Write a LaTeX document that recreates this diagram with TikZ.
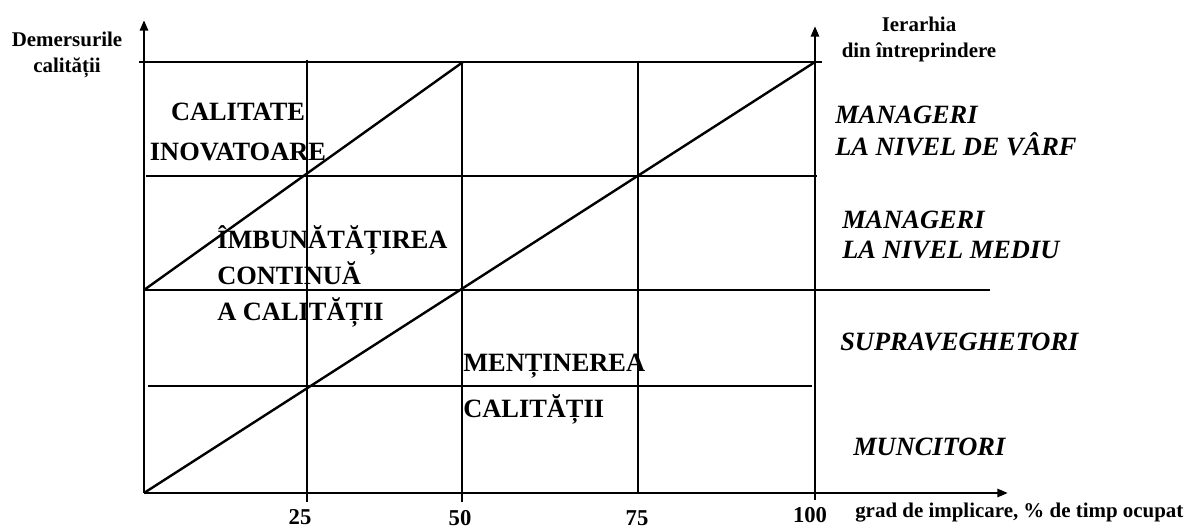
\documentclass[tikz,border=0pt]{standalone}
\usepackage{fontspec}
\setmainfont{Liberation Serif}
\usetikzlibrary{arrows.meta}
\tikzset{
  axis/.style={line width=2pt,-{Triangle[length=8pt,width=6pt]}},
  gridline/.style={line width=1.2pt},
  diag/.style={line width=1.8pt},
  zone/.style={font=\bfseries\fontsize{19.8}{27}\selectfont,align=left,anchor=west,inner sep=0pt},
  level/.style={font=\bfseries\itshape\fontsize{19.8}{24}\selectfont,align=left,anchor=west,inner sep=0pt},
  axlabel/.style={font=\bfseries\fontsize{15.7}{19.5}\selectfont,align=center,inner sep=0pt},
  ticklabel/.style={font=\bfseries\fontsize{17}{20}\selectfont,inner sep=0pt}
}
\begin{document}
\begin{tikzpicture}[x=0.75pt,y=-0.75pt]
  \useasboundingbox (0,0) rectangle (1192,530);
  % axes
  \coordinate (O) at (144,493);
  \coordinate (ytop) at (144,20);
  \coordinate (xend) at (1008,493);
  \coordinate (rbot) at (815,500);
  \coordinate (rtop) at (815,26);
  \draw[axis] (O) -- (ytop);
  \draw[axis] (O) -- (xend);
  \draw[axis] (rbot) -- (rtop);
  % grid
  \draw[gridline] (139,62) -- (822,62);
  \draw[gridline] (146,176) -- (817,176);
  \draw[gridline] (144,290) -- (990,290);
  \draw[gridline] (148,386) -- (812,386);
  \draw[gridline] (307,60) -- (307,502);
  \draw[gridline] (462,62) -- (462,502);
  \draw[gridline] (638,62) -- (638,493);
  % diagonals
  \coordinate (dA) at (144,290);
  \coordinate (dB) at (463,62);
  \coordinate (dC) at (815,62);
  \draw[diag] (dA) -- (dB);
  \draw[diag] (O) -- (dC);
  % axis titles
  \node[axlabel] (ytitle) at (67,55) {Demersurile\\calității};
  \node[axlabel] (rtitle) at (919,39) {Ierarhia\\din întreprindere};
  \node[axlabel,anchor=west] (xtitle) at (855,513) {grad de implicare, \% de timp ocupat};
  \node[ticklabel] (t25) at (300,517) {25};
  \node[ticklabel] (t50) at (460,518) {50};
  \node[ticklabel] (t75) at (637,518) {75};
  \node[ticklabel] (t100) at (810,515) {100};
  % zones
  \node[zone,anchor=center,align=center,font=\bfseries\fontsize{19.8}{30}\selectfont] (inov) at (238,132) {CALITATE\\INOVATOARE};
  \node[zone] (imbun) at (217,276) {ÎMBUNĂTĂȚIREA\\CONTINUĂ\\A CALITĂȚII};
  \node[zone,font=\bfseries\fontsize{19.8}{35}\selectfont] (mentin) at (463,389) {MENȚINEREA\\CALITĂȚII};
  % hierarchy levels
  \node[level] (top) at (835,131) {MANAGERI\\LA NIVEL DE VÂRF};
  \node[level,font=\bfseries\itshape\fontsize{19.8}{22.5}\selectfont] (mid) at (842,235) {MANAGERI\\LA NIVEL MEDIU};
  \node[level] (sup) at (840,342) {SUPRAVEGHETORI};
  \node[level] (munc) at (853,447) {MUNCITORI};
\end{tikzpicture}
\end{document}
